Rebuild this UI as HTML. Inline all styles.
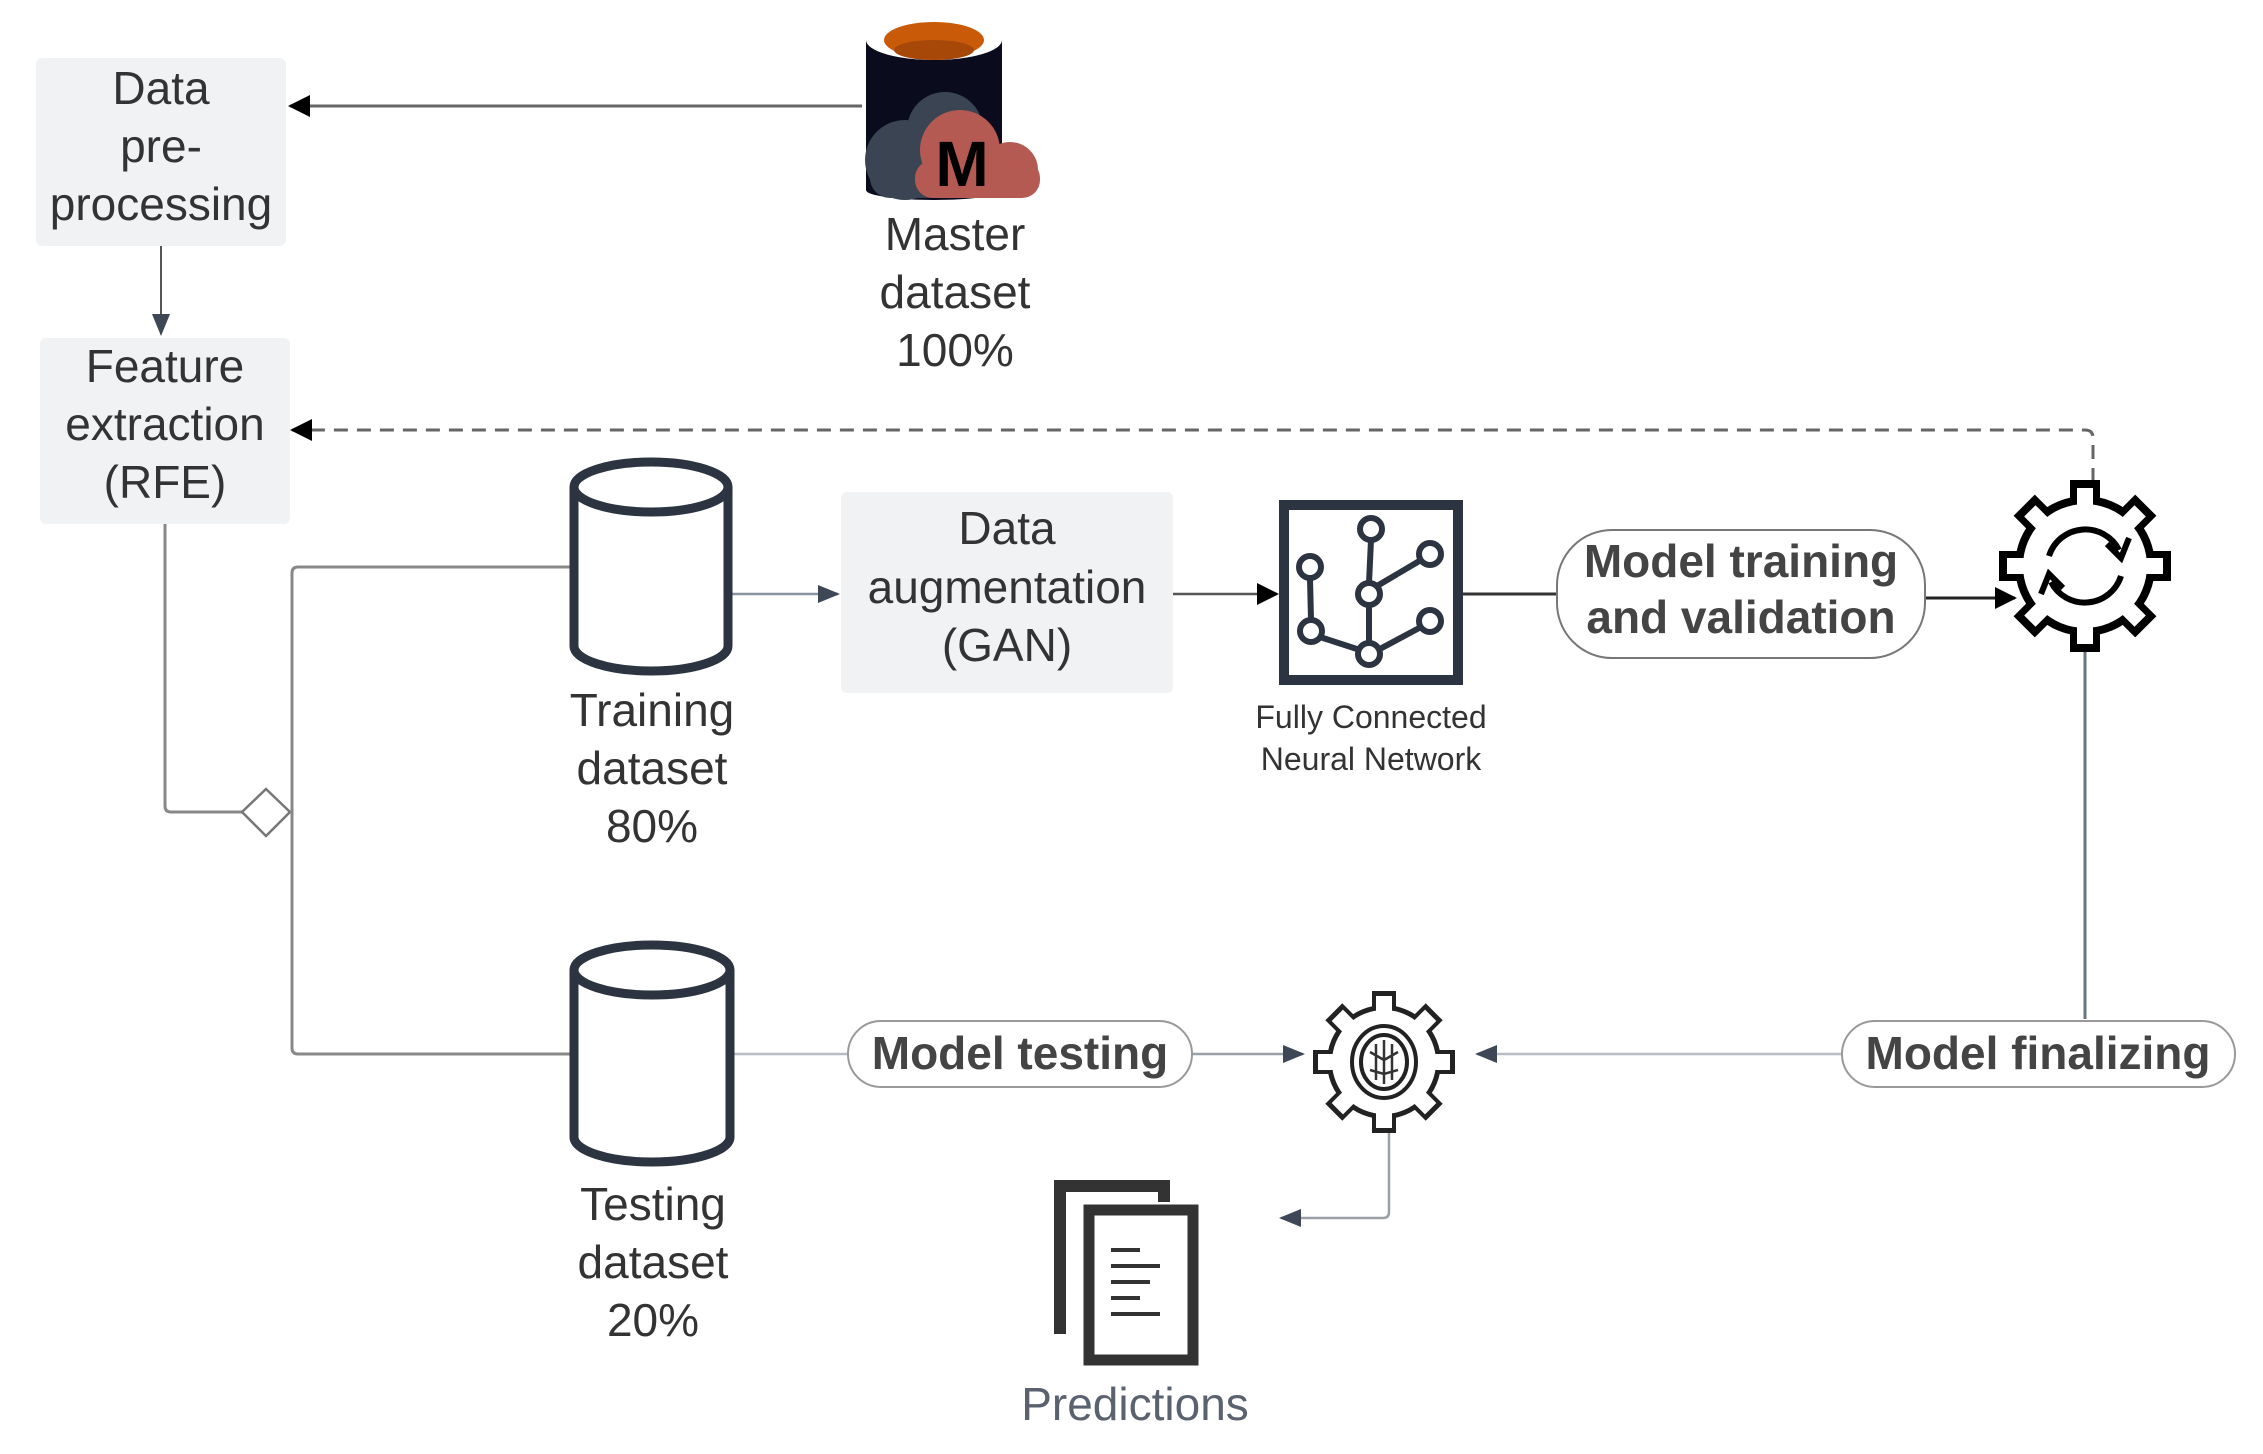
<!DOCTYPE html>
<html><head><meta charset="utf-8"><style>
html,body{margin:0;padding:0;background:#fff;}
svg{display:block;font-family:"Liberation Sans",Arial,sans-serif;}
</style></head><body>
<svg width="2263" height="1454" viewBox="0 0 2263 1454" xmlns="http://www.w3.org/2000/svg">
<defs>
<marker id="ab" markerWidth="10" markerHeight="10" refX="9" refY="5" orient="auto" markerUnits="userSpaceOnUse"><path d="M0,0 L10,5 L0,10 z" fill="#000"/></marker>
<marker id="abig" markerWidth="22" markerHeight="22" refX="20" refY="11" orient="auto" markerUnits="userSpaceOnUse"><path d="M0,0 L22,11 L0,22 z" fill="#000"/></marker>
<marker id="ag" markerWidth="22" markerHeight="22" refX="20" refY="11" orient="auto" markerUnits="userSpaceOnUse"><path d="M0,2 L22,11 L0,20 z" fill="#3d4756"/></marker>
</defs>

<!-- boxes -->
<rect x="36" y="58" width="250" height="188" rx="6" fill="#f1f2f4"/>
<g font-size="46" fill="#333" text-anchor="middle">
<text x="161" y="104">Data</text><text x="161" y="162">pre-</text><text x="161" y="220">processing</text>
</g>
<rect x="40" y="338" width="250" height="186" rx="6" fill="#f1f2f4"/>
<g font-size="46" fill="#333" text-anchor="middle">
<text x="165" y="382">Feature</text><text x="165" y="440">extraction</text><text x="165" y="498">(RFE)</text>
</g>
<rect x="841" y="492" width="332" height="201" rx="6" fill="#f1f2f4"/>
<g font-size="46" fill="#333" text-anchor="middle">
<text x="1007" y="544">Data</text><text x="1007" y="603">augmentation</text><text x="1007" y="661">(GAN)</text>
</g>

<!-- connectors -->
<line x1="862" y1="106" x2="290" y2="106" stroke="#666" stroke-width="3" marker-end="url(#abig)"/>
<line x1="161" y1="246" x2="161" y2="334" stroke="#555" stroke-width="2" marker-end="url(#ag)"/>
<path d="M2093,482 L2093,438 Q2093,430 2085,430 L292,430" fill="none" stroke="#666" stroke-width="3" stroke-dasharray="14,9" marker-end="url(#abig)"/>
<path d="M165,524 L165,806 Q165,812 171,812 L242,812" fill="none" stroke="#888" stroke-width="3"/>
<path d="M266,789 L290,812 L266,836 L242,812 z" fill="#fff" stroke="#777" stroke-width="2.5"/>
<path d="M570,567 L298,567 Q292,567 292,573 L292,1048 Q292,1054 298,1054 L570,1054" fill="none" stroke="#888" stroke-width="3"/>
<line x1="732" y1="594" x2="838" y2="594" stroke="#8a93a0" stroke-width="2.5" marker-end="url(#ag)"/>
<line x1="1173" y1="594" x2="1277" y2="594" stroke="#555" stroke-width="2.5" marker-end="url(#abig)"/>
<line x1="1463" y1="594" x2="1557" y2="594" stroke="#333" stroke-width="3"/>
<line x1="1925" y1="598" x2="2015" y2="598" stroke="#222" stroke-width="3" marker-end="url(#abig)"/>
<line x1="2085" y1="651" x2="2085" y2="1019" stroke="#6a7482" stroke-width="3"/>
<line x1="732" y1="1054" x2="848" y2="1054" stroke="#b8bcc4" stroke-width="2.5"/>
<line x1="1192" y1="1054" x2="1303" y2="1054" stroke="#9aa0a8" stroke-width="2.5" marker-end="url(#ag)"/>
<line x1="1842" y1="1054" x2="1477" y2="1054" stroke="#b8bcc4" stroke-width="2.5" marker-end="url(#ag)"/>
<path d="M1389,1133 L1389,1212 Q1389,1218 1383,1218 L1281,1218" fill="none" stroke="#9aa0a8" stroke-width="2.5" marker-end="url(#ag)"/>

<!-- Master dataset icon -->
<rect x="866" y="40" width="136" height="150" fill="#0b0b1e"/>
<ellipse cx="934" cy="40" rx="68" ry="20" fill="#fff"/>
<ellipse cx="934" cy="40" rx="50" ry="18" fill="#c85a08"/>
<ellipse cx="934" cy="50" rx="40" ry="10" fill="#a84808"/>
<ellipse cx="934" cy="190" rx="68" ry="10" fill="#0b0b1e"/>
<circle cx="905" cy="160" r="40" fill="#3a4452"/>
<circle cx="945" cy="130" r="38" fill="#3a4452"/>
<rect x="870" y="150" width="100" height="48" rx="20" fill="#3a4452"/>
<circle cx="960" cy="150" r="40" fill="#b55a52"/>
<circle cx="1010" cy="170" r="28" fill="#b55a52"/>
<rect x="915" y="160" width="125" height="38" rx="18" fill="#b55a52"/>
<text x="962" y="186" font-size="64" font-weight="bold" fill="#000" text-anchor="middle">M</text>
<g font-size="46" fill="#333" text-anchor="middle">
<text x="955" y="250">Master</text><text x="955" y="308">dataset</text><text x="955" y="366">100%</text>
</g>

<!-- training cylinder -->
<path d="M574,487 L574,646 A77,25 0 0 0 728,646 L728,487" fill="#fff" stroke="#2b3440" stroke-width="9"/>
<ellipse cx="651" cy="487" rx="77" ry="25" fill="#fff" stroke="#2b3440" stroke-width="9"/>
<g font-size="46" fill="#333" text-anchor="middle">
<text x="652" y="726">Training</text><text x="652" y="784">dataset</text><text x="652" y="842">80%</text>
</g>

<!-- testing cylinder -->
<path d="M574,970 L574,1137 A78,25 0 0 0 730,1137 L730,970" fill="#fff" stroke="#2b3440" stroke-width="9"/>
<ellipse cx="652" cy="970" rx="78" ry="25" fill="#fff" stroke="#2b3440" stroke-width="9"/>
<g font-size="46" fill="#333" text-anchor="middle">
<text x="653" y="1220">Testing</text><text x="653" y="1278">dataset</text><text x="653" y="1336">20%</text>
</g>

<!-- NN icon -->
<rect x="1284" y="505" width="174" height="175" fill="#fff" stroke="#2b3440" stroke-width="10"/>
<g stroke="#2b3440" stroke-width="6" fill="none">
<path d="M1371,540 L1369,583 M1369,605 L1369,643 M1377,586 L1421,560 M1310,578 L1311,620 M1320,637 L1360,650 M1378,650 L1421,627"/>
</g>
<g stroke="#2b3440" stroke-width="6" fill="#fff">
<circle cx="1371" cy="529" r="11"/><circle cx="1430" cy="554" r="11"/><circle cx="1310" cy="567" r="11"/>
<circle cx="1369" cy="594" r="11"/><circle cx="1430" cy="621" r="11"/><circle cx="1311" cy="631" r="11"/><circle cx="1369" cy="654" r="11"/>
</g>
<g font-size="32" fill="#333" text-anchor="middle">
<text x="1371" y="728">Fully Connected</text><text x="1371" y="770">Neural Network</text>
</g>

<!-- pills -->
<rect x="1557" y="530" width="368" height="128" rx="55" fill="#fff" stroke="#777" stroke-width="2"/>
<g font-size="46" font-weight="bold" fill="#444" text-anchor="middle">
<text x="1741" y="577">Model training</text><text x="1741" y="633">and validation</text>
</g>
<rect x="848" y="1021" width="344" height="66" rx="33" fill="#fff" stroke="#999" stroke-width="2"/>
<text x="1020" y="1069" font-size="46" font-weight="bold" fill="#444" text-anchor="middle">Model testing</text>
<rect x="1842" y="1021" width="393" height="66" rx="33" fill="#fff" stroke="#999" stroke-width="2"/>
<text x="2038" y="1069" font-size="46" font-weight="bold" fill="#444" text-anchor="middle">Model finalizing</text>

<!-- gear 1 -->
<g transform="translate(2085,566)">
<g fill="#000">
<rect x="-15" y="-86" width="30" height="172"/><rect x="-15" y="-86" width="30" height="172" transform="rotate(45)"/>
<rect x="-15" y="-86" width="30" height="172" transform="rotate(90)"/><rect x="-15" y="-86" width="30" height="172" transform="rotate(135)"/>
<circle r="70"/>
</g>
<g fill="#fff">
<rect x="-8" y="-78" width="16" height="156"/><rect x="-8" y="-78" width="16" height="156" transform="rotate(45)"/>
<rect x="-8" y="-78" width="16" height="156" transform="rotate(90)"/><rect x="-8" y="-78" width="16" height="156" transform="rotate(135)"/>
<circle r="62"/>
</g>
<path d="M-36,-10 A38,38 0 0 1 34,-16" fill="none" stroke="#000" stroke-width="6"/>
<path d="M22,-22 L36,-8 L44,-28" fill="none" stroke="#000" stroke-width="6"/>
<path d="M36,10 A38,38 0 0 1 -34,16" fill="none" stroke="#000" stroke-width="6"/>
<path d="M-22,22 L-36,8 L-44,28" fill="none" stroke="#000" stroke-width="6"/>
</g>

<!-- gear 2 -->
<g transform="translate(1384,1062)">
<g fill="#222">
<rect x="-12" y="-71" width="24" height="142"/><rect x="-12" y="-71" width="24" height="142" transform="rotate(45)"/>
<rect x="-12" y="-71" width="24" height="142" transform="rotate(90)"/><rect x="-12" y="-71" width="24" height="142" transform="rotate(135)"/>
<circle r="57"/>
</g>
<g fill="#fff">
<rect x="-8" y="-66" width="16" height="132"/><rect x="-8" y="-66" width="16" height="132" transform="rotate(45)"/>
<rect x="-8" y="-66" width="16" height="132" transform="rotate(90)"/><rect x="-8" y="-66" width="16" height="132" transform="rotate(135)"/>
<circle r="52"/>
</g>
<ellipse rx="32" ry="36" fill="none" stroke="#222" stroke-width="4"/>
<ellipse rx="23" ry="27" fill="none" stroke="#222" stroke-width="4"/>
<path d="M0,-22 L0,22 M-14,-10 L0,-2 L14,-10 M-14,8 L0,12 L14,8 M-8,-18 L-8,18 M8,-18 L8,18" stroke="#333" stroke-width="2.5" fill="none"/>
</g>

<!-- predictions icon -->
<path d="M1060,1334 L1060,1186 L1164,1186 L1164,1202" fill="none" stroke="#333" stroke-width="12"/>
<rect x="1089" y="1210" width="104" height="150" fill="#fff" stroke="#333" stroke-width="11"/>
<g stroke="#333" stroke-width="4">
<line x1="1111" y1="1250" x2="1140" y2="1250"/><line x1="1111" y1="1266" x2="1160" y2="1266"/>
<line x1="1111" y1="1282" x2="1150" y2="1282"/><line x1="1111" y1="1298" x2="1140" y2="1298"/>
<line x1="1111" y1="1314" x2="1160" y2="1314"/>
</g>
<text x="1135" y="1420" font-size="46" fill="#5a6270" text-anchor="middle">Predictions</text>
</svg>
</body></html>
